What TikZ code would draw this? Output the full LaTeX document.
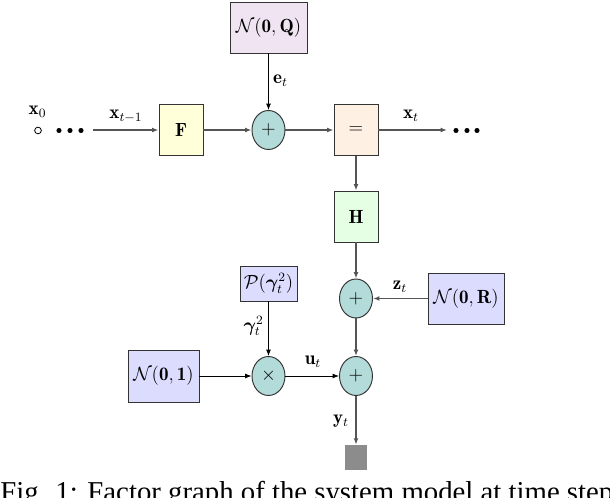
\documentclass[tikz,border=0pt]{standalone}
\usepackage{amsmath,amssymb,bm}
\usepackage{fontspec}
\newfontfamily\capfont{Liberation Serif}
\usetikzlibrary{arrows.meta,shapes.geometric}
\definecolor{cpink}{HTML}{F0E4F2}
\definecolor{cyellow}{HTML}{FFFFD9}
\definecolor{cteal}{HTML}{B3DBD9}
\definecolor{cpeach}{HTML}{FFF0E4}
\definecolor{cgreen}{HTML}{E4FFE4}
\definecolor{clav}{HTML}{DCDCFF}
\definecolor{cline}{HTML}{555555}
\begin{document}
\begin{tikzpicture}[x=0.629pt,y=-0.629pt, font=\large,
  box/.style={draw=black!80, line width=0.6pt, inner sep=0pt, minimum width=44*0.629pt, minimum height=51*0.629pt},
  fac/.style={ellipse, draw=black!80, line width=0.6pt, fill=cteal, inner sep=0pt, minimum width=33*0.629pt, minimum height=39*0.629pt},
  gline/.style={draw=cline, line width=0.9pt, -{Latex[length=4pt,width=3pt]}},
  bline/.style={draw=black, line width=0.45pt, -{Latex[length=4pt,width=3pt]}},
  dot/.style={circle, fill=black, inner sep=0pt, minimum size=3.2pt},
  lab/.style={inner sep=0pt}
]
\useasboundingbox (0,0) rectangle (610,498);
% nodes
\node[box, fill=cpink, minimum width=77*0.629pt] (NQ) at (268.5,27.5) {$\mathcal{N}(\mathbf{0},\mathbf{Q})$};
\node[box, fill=cyellow] (F) at (181,130) {$\mathbf{F}$};
\node[fac] (p1) at (268.5,130) {$+$};
\node[box, fill=cpeach] (eq) at (356,130) {$=$};
\node[box, fill=cgreen] (H) at (356,216.5) {$\mathbf{H}$};
\node[fac] (p2) at (356,298.5) {$+$};
\node[box, fill=clav, minimum width=76*0.629pt] (NR) at (466,298.5) {$\mathcal{N}(\mathbf{0},\mathbf{R})$};
\node[box, fill=clav, minimum width=57*0.629pt, minimum height=35*0.629pt] (P) at (268.5,283.5) {$\mathcal{P}(\boldsymbol{\gamma}_t^2)$};
\node[fac] (m) at (268.5,376) {$\times$};
\node[box, fill=clav, minimum width=71*0.629pt, minimum height=52*0.629pt] (N1) at (163.5,376) {$\mathcal{N}(\mathbf{0},\mathbf{1})$};
\node[fac] (p3) at (356,376) {$+$};
\node[fill=black!45, inner sep=0pt, minimum width=22*0.629pt, minimum height=25*0.629pt] (sq) at (356,457.5) {};
% x0 and dots
\node[circle, draw=black, line width=0.5pt, inner sep=0pt, minimum size=4.2pt] (x0) at (38,130.5) {};
\node[lab] (x0l) at (37.5,112) {$\mathbf{x}_0$};
\node[dot] (d1) at (59,130.5) {};
\node[dot] (d2) at (70,130.5) {};
\node[dot] (d3) at (81,130.5) {};
\node[dot] (d4) at (456,130.5) {};
\node[dot] (d5) at (467,130.5) {};
\node[dot] (d6) at (477,130.5) {};
\coordinate (s0) at (93,130);
\coordinate (s1) at (447,130);
% connectors
\draw[gline] (s0) -- (F.west);
\draw[gline] (F.east) -- (p1.west);
\draw[gline] (p1.east) -- (eq.west);
\draw[gline] (eq.east) -- (s1);
\draw[bline] (NQ.south) -- (p1.north);
\draw[gline] (eq.south) -- (H.north);
\draw[gline] (H.south) -- (p2.north);
\draw[gline] (NR.west) -- (p2.east);
\draw[gline] (p2.south) -- (p3.north);
\draw[bline] (P.south) -- (m.north);
\draw[bline] (N1.east) -- (m.west);
\draw[bline] (m.east) -- (p3.west);
\draw[gline] (p3.south) -- (sq.north);
% labels
\node[lab] at (126,116) {$\mathbf{x}_{t-1}$};
\node[lab] at (411,116) {$\mathbf{x}_t$};
\node[lab] at (280.5,81) {$\mathbf{e}_t$};
\node[lab] at (400,287) {$\mathbf{z}_t$};
\node[lab, anchor=east] at (264,326) {$\boldsymbol{\gamma}_t^2$};
\node[lab] at (313,362) {$\mathbf{u}_t$};
\node[lab] at (341,421) {$\mathbf{y}_t$};
% caption (cut by the page edge)
\node[lab, anchor=base west] (cap) at (0,501.5) {\capfont\fontsize{18.1pt}{21pt}\selectfont Fig. 1: Factor graph of the system model at time step};
\end{tikzpicture}
\end{document}
